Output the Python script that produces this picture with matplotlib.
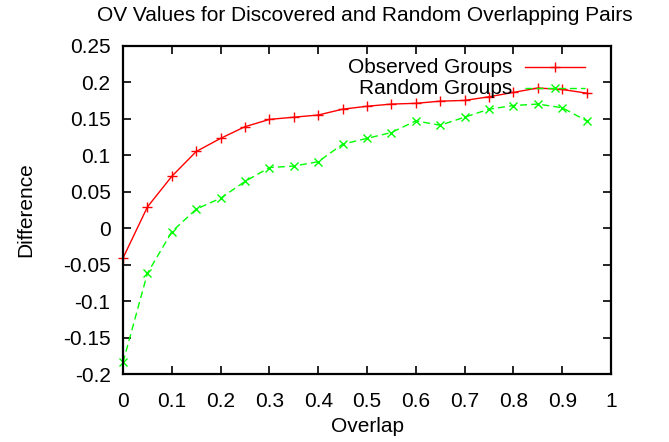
import matplotlib
matplotlib.use("Agg")
import matplotlib.pyplot as plt
from matplotlib.lines import Line2D

plt.rcParams['font.family'] = ['Liberation Sans', 'DejaVu Sans']

overlap = [0, 0.05, 0.1, 0.15, 0.2, 0.25, 0.3, 0.35, 0.4, 0.45,
           0.5, 0.55, 0.6, 0.65, 0.7, 0.75, 0.8, 0.85, 0.9, 0.95]
observed = [-0.041, 0.029, 0.071, 0.105, 0.123, 0.139, 0.149, 0.152, 0.155, 0.163,
            0.167, 0.170, 0.171, 0.174, 0.175, 0.180, 0.186, 0.192, 0.190, 0.185]
random_grp = [-0.184, -0.062, -0.005, 0.026, 0.041, 0.064, 0.083, 0.085, 0.091, 0.115,
              0.123, 0.131, 0.147, 0.141, 0.152, 0.163, 0.168, 0.170, 0.165, 0.147]
xticks = [0, 0.1, 0.2, 0.3, 0.4, 0.5, 0.6, 0.7, 0.8, 0.9, 1]
yticks = [-0.2, -0.15, -0.1, -0.05, 0, 0.05, 0.1, 0.15, 0.2, 0.25]
xtick_labels = ['0', '0.1', '0.2', '0.3', '0.4', '0.5', '0.6', '0.7', '0.8', '0.9', '1']
ytick_labels = ['-0.2', '-0.15', '-0.1', '-0.05', '0', '0.05', '0.1', '0.15', '0.2', '0.25']

red = '#ff0000'
green = '#00ff00'
fs = 15
dash = (0, (5, 3))

fig = plt.figure(figsize=(6.69, 4.42), dpi=100)
ax = fig.add_axes([0.1839, 0.1538, 0.7294, 0.7428])

ax.plot(overlap, observed, color=red, lw=1, marker='+', ms=6.5, mew=1, clip_on=False)
ax.plot(overlap, random_grp, color=green, lw=1, ls=dash, marker='x', ms=6, mew=1, clip_on=False)

ax.set_xlim(0, 1)
ax.set_ylim(-0.2, 0.25)
ax.set_xticks(xticks)
ax.set_xticklabels(xtick_labels)
ax.set_yticks(yticks)
ax.set_yticklabels(ytick_labels)
ax.tick_params(direction='in', length=6, width=1.2, top=True, right=True, labelsize=fs)
ax.tick_params(axis='y', pad=9)
ax.tick_params(axis='x', pad=13)
for s in ax.spines.values():
    s.set_linewidth(1.6)

ax.set_xlabel('Overlap', fontsize=fs, labelpad=4)
ax.set_ylabel('Difference', fontsize=fs, labelpad=20)
fig.text(0.546, 0.952, 'OV Values for Discovered and Random Overlapping Pairs',
         ha='center', va='baseline', fontsize=fs)

# gnuplot style key: right aligned text, sample on the right
ax.text(0.797, 0.935, 'Observed Groups', transform=ax.transAxes, ha='right', va='center', fontsize=fs)
ax.text(0.797, 0.87, 'Random Groups', transform=ax.transAxes, ha='right', va='center', fontsize=fs)
ax.add_line(Line2D([0.824, 0.947], [0.935, 0.935], transform=ax.transAxes, color=red, lw=1))
ax.add_line(Line2D([0.8855], [0.935], transform=ax.transAxes, color=red, marker='+', ms=6.5, mew=1))
ax.add_line(Line2D([0.824, 0.947], [0.87, 0.87], transform=ax.transAxes, color=green, lw=1, ls=dash))
ax.add_line(Line2D([0.8855], [0.87], transform=ax.transAxes, color=green, marker='x', ms=6, mew=1))

fig.savefig('out.png', dpi=100)
